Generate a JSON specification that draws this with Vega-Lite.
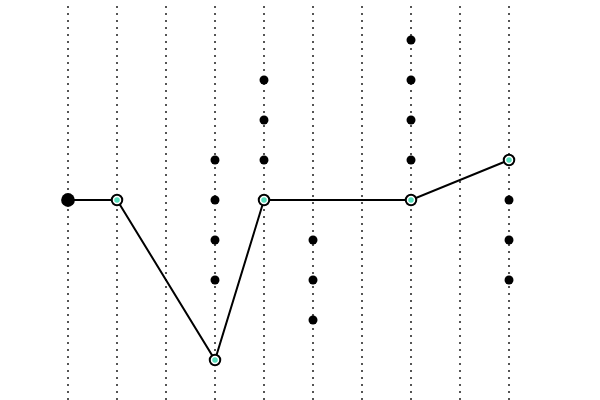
{
  "$schema": "https://vega.github.io/schema/vega-lite/v6.json",
  "width": 600,
  "height": 400,
  "padding": 0,
  "autosize": "none",
  "config": {"view": {"stroke": null}},
  "datasets": {
    "cols": [
      {"col": 0}, {"col": 1}, {"col": 2}, {"col": 3}, {"col": 4},
      {"col": 5}, {"col": 6}, {"col": 7}, {"col": 8}, {"col": 9}
    ],
    "points": [
      {"col": 0, "level": 0, "kind": "start"},
      {"col": 1, "level": 0, "kind": "path"},
      {"col": 3, "level": 1, "kind": "dot"},
      {"col": 3, "level": 0, "kind": "dot"},
      {"col": 3, "level": -1, "kind": "dot"},
      {"col": 3, "level": -2, "kind": "dot"},
      {"col": 3, "level": -4, "kind": "path"},
      {"col": 4, "level": 3, "kind": "dot"},
      {"col": 4, "level": 2, "kind": "dot"},
      {"col": 4, "level": 1, "kind": "dot"},
      {"col": 4, "level": 0, "kind": "path"},
      {"col": 5, "level": -1, "kind": "dot"},
      {"col": 5, "level": -2, "kind": "dot"},
      {"col": 5, "level": -3, "kind": "dot"},
      {"col": 7, "level": 4, "kind": "dot"},
      {"col": 7, "level": 3, "kind": "dot"},
      {"col": 7, "level": 2, "kind": "dot"},
      {"col": 7, "level": 1, "kind": "dot"},
      {"col": 7, "level": 0, "kind": "path"},
      {"col": 9, "level": 1, "kind": "path"},
      {"col": 9, "level": 0, "kind": "dot"},
      {"col": 9, "level": -1, "kind": "dot"},
      {"col": 9, "level": -2, "kind": "dot"}
    ]
  },
  "layer": [
    {
      "data": {"name": "cols"},
      "mark": {"type": "rule", "color": "#555555", "strokeWidth": 2, "strokeDash": [2, 5]},
      "encoding": {
        "x": {"field": "col", "type": "quantitative", "scale": {"domain": [-1.3878, 10.857], "nice": false, "zero": false}, "axis": null},
        "y": {"datum": 4.85, "type": "quantitative", "scale": {"domain": [-5, 5], "nice": false}, "axis": null},
        "y2": {"datum": -5}
      }
    },
    {
      "data": {"name": "points"},
      "transform": [{"filter": "datum.kind != 'dot'"}],
      "mark": {"type": "line", "color": "black", "strokeWidth": 2},
      "encoding": {
        "x": {"field": "col", "type": "quantitative"},
        "y": {"field": "level", "type": "quantitative"},
        "order": {"field": "col"}
      }
    },
    {
      "data": {"name": "points"},
      "transform": [{"filter": "datum.kind == 'dot'"}],
      "mark": {"type": "circle", "color": "black", "opacity": 1, "size": 80},
      "encoding": {
        "x": {"field": "col", "type": "quantitative"},
        "y": {"field": "level", "type": "quantitative"}
      }
    },
    {
      "data": {"name": "points"},
      "transform": [{"filter": "datum.kind == 'start'"}],
      "mark": {"type": "circle", "color": "black", "opacity": 1, "size": 190},
      "encoding": {
        "x": {"field": "col", "type": "quantitative"},
        "y": {"field": "level", "type": "quantitative"}
      }
    },
    {
      "data": {"name": "points"},
      "transform": [{"filter": "datum.kind == 'path'"}],
      "mark": {"type": "point", "shape": "circle", "filled": true, "fill": "white", "stroke": "black", "strokeWidth": 2, "opacity": 1, "size": 110},
      "encoding": {
        "x": {"field": "col", "type": "quantitative"},
        "y": {"field": "level", "type": "quantitative"}
      }
    },
    {
      "data": {"name": "points"},
      "transform": [{"filter": "datum.kind == 'path'"}],
      "mark": {"type": "circle", "color": "#55ddbb", "opacity": 1, "size": 30},
      "encoding": {
        "x": {"field": "col", "type": "quantitative"},
        "y": {"field": "level", "type": "quantitative"}
      }
    }
  ]
}
